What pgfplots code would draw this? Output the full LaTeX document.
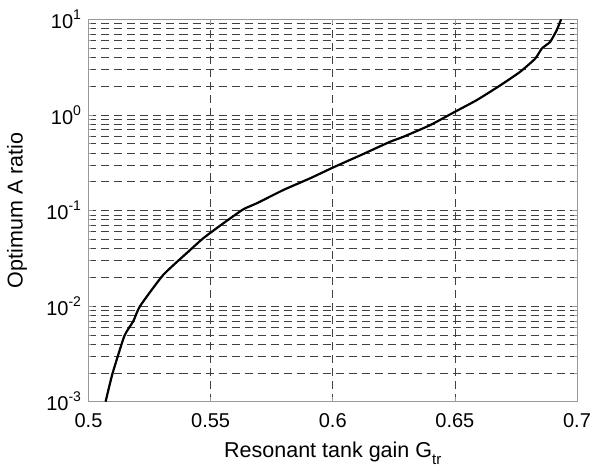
\documentclass[border=0pt]{standalone}
\usepackage{fontspec}
\setmainfont{Liberation Sans}
\usepackage{pgfplots}
\pgfplotsset{compat=1.18}
\newcommand{\tp}[1]{10\raisebox{0.45em}{\fontsize{14}{14}\selectfont #1}}
\begin{document}
\begin{tikzpicture}[x=1pt,y=1pt]
\useasboundingbox (-88.5,-71.3) rectangle (505.5,401.7);
\begin{axis}[
  at={(0,0)}, anchor=south west,
  scale only axis, width=488.5pt, height=382.4pt,
  xmin=0.5, xmax=0.7, ymode=log, ymin=1e-3, ymax=10,
  xtick={0.5,0.55,0.6,0.65,0.7}, xticklabels={0.5,0.55,0.6,0.65,0.7},
  ytick={1e-3,1e-2,1e-1,1,10},
  yticklabels={\tp{-3},\tp{-2},\tp{-1},\tp{0},\tp{1}},
  minor ytick={2e-3,3e-3,4e-3,5e-3,6e-3,7e-3,8e-3,9e-3,2e-2,3e-2,4e-2,5e-2,6e-2,7e-2,8e-2,9e-2,0.2,0.3,0.4,0.5,0.6,0.7,0.8,0.9,2,3,4,5,6,7,8,9},
  xmajorgrids, ymajorgrids, yminorgrids,
  major grid style={dash pattern=on 8pt off 5pt, black!75, line width=0.7pt},
  minor grid style={dash pattern=on 8pt off 5pt, black!75, line width=0.7pt},
  axis line style={gray!80, line width=0.8pt},
  tick style={gray!80, line width=0.6pt},
  tick align=inside,
  major tick length=5pt, minor tick length=3pt,
  tick label style={font=\fontsize{20}{24}\selectfont},
  xticklabel style={anchor=base, yshift=-25.5pt},
  yticklabel style={anchor=east, xshift=-4pt},
  label style={font=\fontsize{21.5}{25}\selectfont},
  xlabel={Resonant tank gain G\raisebox{-0.35em}{\fontsize{15}{15}\selectfont tr}},
  xlabel style={at={(axis description cs:0.5,-0.1454)}, anchor=base},
  ylabel={Optimum A ratio},
  ylabel style={at={(axis description cs:-0.1464,0.5)}, anchor=center},
]
\addplot[black, line width=2.2pt, smooth, tension=0.3] coordinates {
(0.5070,0.001)
(0.5098,0.00196)
(0.5147,0.00488)
(0.5184,0.0070)
(0.5211,0.0100)
(0.5306,0.0212)
(0.5416,0.0386)
(0.5470,0.0513)
(0.5552,0.0735)
(0.5634,0.103)
(0.5689,0.119)
(0.5798,0.164)
(0.5907,0.217)
(0.6003,0.283)
(0.6125,0.39)
(0.6235,0.524)
(0.6289,0.59)
(0.6398,0.78)
(0.6501,1.08)
(0.6590,1.43)
(0.6685,2.03)
(0.6767,2.82)
(0.6829,3.88)
(0.6856,4.95)
(0.6890,5.8)
(0.6917,7.7)
(0.6935,10)
};
\end{axis}
\end{tikzpicture}
\end{document}
